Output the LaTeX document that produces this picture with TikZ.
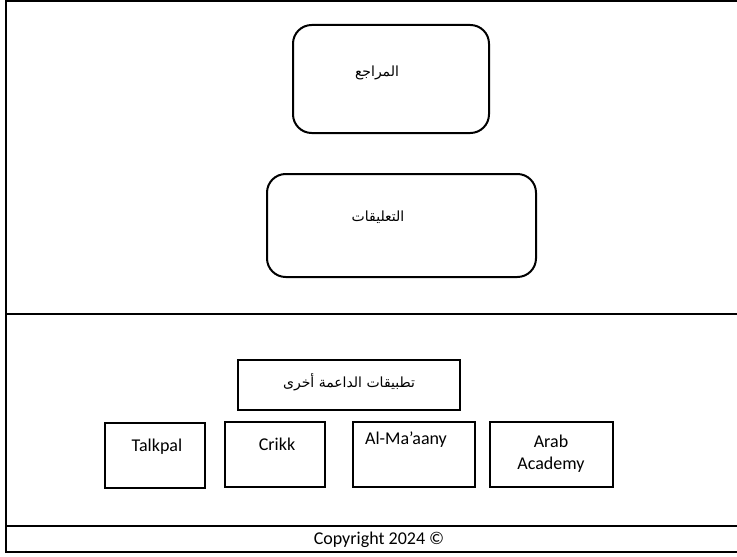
\documentclass[tikz,border=0pt]{standalone}
\usepackage{fontspec}
\setmainfont{Carlito}
\newfontfamily\arabicfont[Script=Arabic]{DejaVu Sans}
\TeXXeTstate=1
\begin{document}
\begin{tikzpicture}[x=0.75pt,y=-0.75pt,
  frameline/.style={line width=1.5pt},
  roundbox/.style={draw,line width=1.5pt,rounded corners=14pt},
  sqbox/.style={draw,line width=1.5pt},
  lbl/.style={font=\fontsize{13.5}{16.5}\selectfont,align=center},
  arlbl/.style={font=\arabicfont\fontsize{10.5}{13}\selectfont}]
\useasboundingbox (0,0) rectangle (737,556);
% frame
\coordinate (tl) at (6,1);
\coordinate (tr) at (737,1);
\coordinate (bl) at (6,552);
\coordinate (br) at (737,552);
\coordinate (ml) at (6,314);
\coordinate (mr) at (737,314);
\coordinate (cl) at (6,526);
\coordinate (cr) at (737,526);
\draw[frameline] (tr) -- (tl) -- (bl) -- (br);
\draw[frameline] (ml) -- (mr);
\draw[frameline] (cl) -- (cr);
% top boxes
\draw[roundbox] (293,25) rectangle (489,133);
\node[arlbl] (refs) at (377,73) {\beginR المراجع\endR};
\draw[roundbox] (267,174) rectangle (536,277);
\node[arlbl] (comm) at (378,217) {\beginR التعليقات\endR};
% apps
\node[sqbox,minimum width=222*0.75pt,minimum height=50*0.75pt,inner sep=0pt] (apps) at (349,385) {};
\node[arlbl] (appst) at (349,382) {\beginR تطبيقات الداعمة أخرى\endR};
\draw[sqbox] (105,423) rectangle (205,488);
\node[lbl] (talk) at (157,447) {Talkpal};
\draw[sqbox] (225,422) rectangle (325,487);
\node[lbl] (crikk) at (277,444) {Crikk};
\draw[sqbox] (353,422) rectangle (475,487);
\node[lbl] (alma) at (406,440) {Al-Ma’aany};
\draw[sqbox] (490,422) rectangle (613,487);
\node[lbl] (arab) at (551,454) {Arab\\Academy};
\node[lbl] (copy) at (379,540) {Copyright 2024 ©};
\end{tikzpicture}
\end{document}
